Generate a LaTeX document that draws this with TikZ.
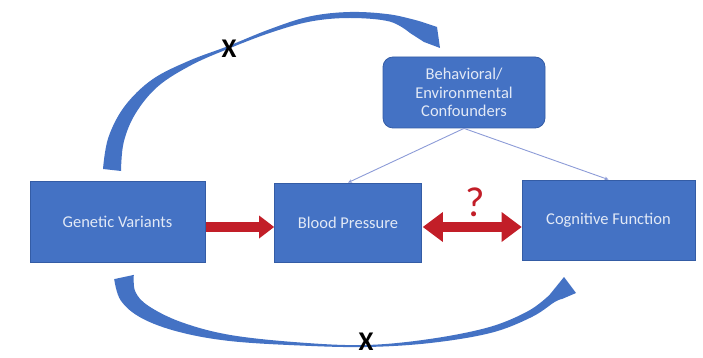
\documentclass[tikz,border=0pt]{standalone}
\usepackage{fontspec}
\setmainfont{Carlito}
\usetikzlibrary{arrows.meta}
\definecolor{boxblue}{RGB}{68,114,196}
\definecolor{boxedge}{RGB}{52,92,165}
\definecolor{txtcol}{RGB}{226,233,246}
\definecolor{arrred}{RGB}{194,30,40}
\definecolor{thincol}{RGB}{140,155,215}
\begin{document}
\begin{tikzpicture}[x=1pt,y=-1pt,
  box/.style={draw=boxedge, line width=0.8pt, fill=boxblue, text=txtcol,
    font=\fontsize{16.5}{18.5}\selectfont, inner sep=0pt, align=center},
  redarrow/.style={draw=arrred, line width=10pt},
  thinline/.style={draw=thincol, line width=0.9pt, -{Stealth[length=4pt,width=3.5pt]}},
  xmark/.style={font=\fontsize{27}{27}\bfseries\selectfont, text=black, inner sep=0pt},
  curvearrow/.style={fill=boxblue}
]
\useasboundingbox (0,0) rectangle (703,358);

% nodes
\node[box, minimum width=175pt, minimum height=81pt] (gv) at (117.5,221.5) {Genetic Variants};
\node[box, minimum width=147pt, minimum height=79pt] (bp) at (348,222.5) {Blood Pressure};
\node[box, minimum width=173pt, minimum height=80pt] (cf) at (608.5,220) {Cognitive Function};
\node[box, rounded corners=10pt, minimum width=162pt, minimum height=71pt] (conf) at (464,92.5)
  {Behavioral/\\Environmental\\Confounders};

% thin lines from confounders
\draw[thinline] (conf.south) -- (bp.north);
\draw[thinline] (conf.south) -- (cf.north);

% red arrows
\draw[redarrow, shorten <=1pt, -{Triangle[length=15pt,width=23pt,line width=0pt]}]
  (gv.east |- 0,227) -- (bp.west |- 0,227);
\draw[redarrow, line width=10.5pt, shorten <=1pt,
  {Triangle[length=20pt,width=30pt,line width=0pt]}-{Triangle[length=20pt,width=30pt,line width=0pt]}]
  (bp.east |- 0,227) -- (cf.west |- 0,227);
\node[text=arrred, font=\fontsize{42}{42}\selectfont, inner sep=0pt] (q) at (475,202) {?};

% top curved arrow (Genetic Variants -> Confounders)
\fill[curvearrow] plot[smooth, tension=0.6] coordinates
  {(103,169) (108.3,137.7) (124.6,106.3) (152.2,79.5) (188.9,60.8) (227.5,46.3)
   (269.5,29.3) (309.5,16.5) (350,12) (390.5,14.5) (421.6,21.8)}
  -- (437,27) -- (440,48) -- (424,42) -- plot[smooth, tension=0.6] coordinates
  {(410,33) (389.5,21.5) (350,18) (310.5,21.5) (270.5,32.7) (228.5,48.7)
   (191.1,65.2) (157.8,86.5) (135.4,113.7) (123.7,142.3) (121,171)}
  -- cycle;
\node[xmark] (x1) at (229,49) {X};

% bottom curved arrow (Genetic Variants -> Cognitive Function)
\fill[curvearrow] plot[smooth, tension=0.6] coordinates
  {(133.8,274.9) (135.3,291.6) (148.6,306) (181.5,322.2) (230.4,335) (300.1,342.5)
   (366,345) (429.7,339) (489.2,327.1) (528.4,310.9) (549.5,294.9)}
  -- (564,277) -- (576,293) -- plot[smooth, tension=0.6] coordinates
  {(562,299) (554.5,302.1) (531.6,317.1) (490.8,332.9) (430.3,343) (366,347)
   (299.9,345.5) (229.6,341) (178.5,331.8) (141.4,318) (120.7,300.4) (114.2,279.1)}
  -- cycle;
\node[xmark] (x2) at (366,342) {X};
\end{tikzpicture}
\end{document}
